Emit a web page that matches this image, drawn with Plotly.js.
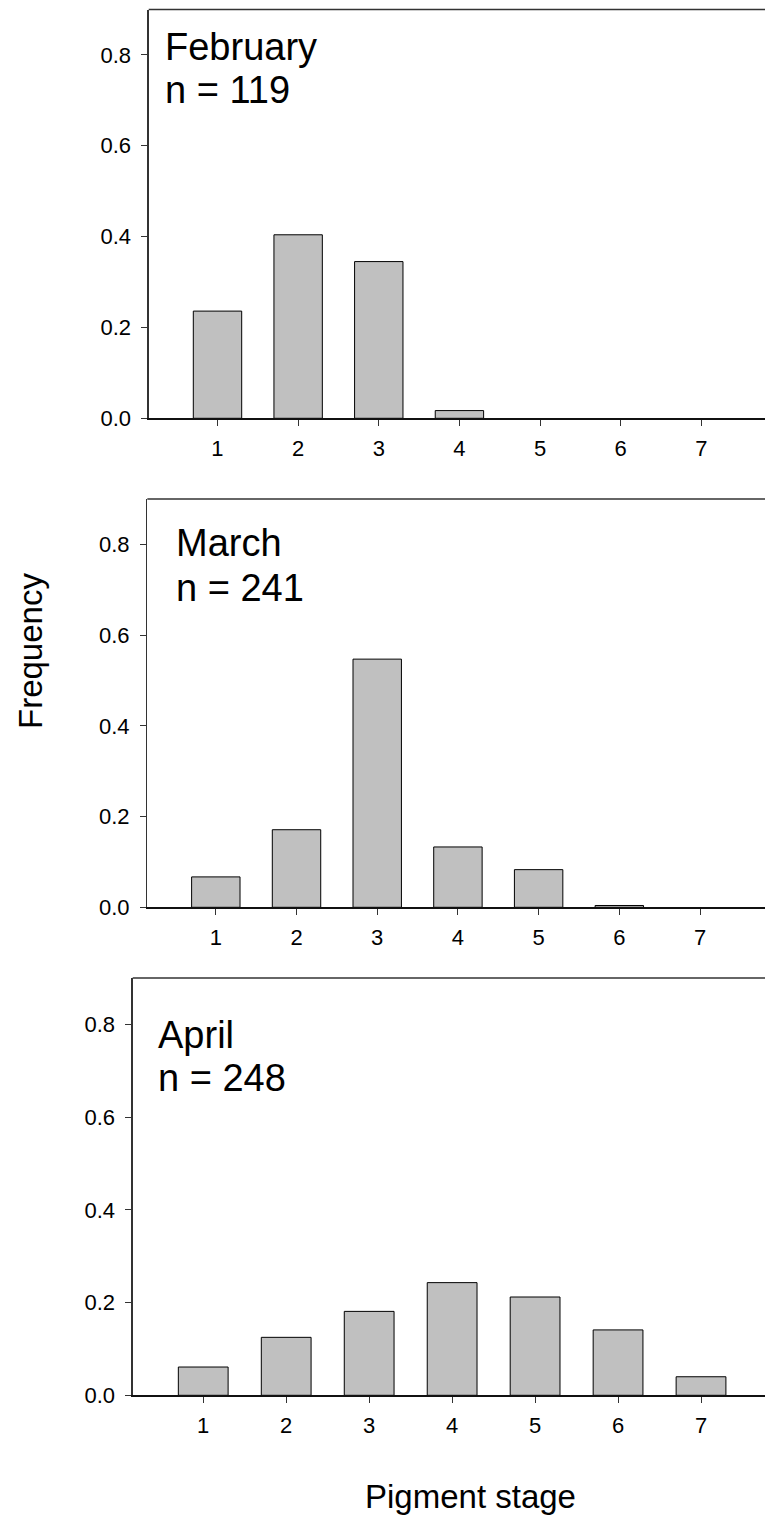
<!DOCTYPE html>
<html>
<head>
<meta charset="utf-8">
<script src="https://cdn.plot.ly/plotly-3.0.1.min.js"></script>
<style>html,body{margin:0;padding:0;background:#fff;}#chart{width:765px;height:1520px;}</style>
</head>
<body>
<div id="chart"></div>
<script>
// Data
const stages = [1, 2, 3, 4, 5, 6, 7];
const tickLabels = ['1', '2', '3', '4', '5', '6', '7'];
const febFreq = [0.236, 0.404, 0.345, 0.017, 0, 0, 0];
const marFreq = [0.067, 0.171, 0.547, 0.133, 0.083, 0.004, 0];
const aprFreq = [0.061, 0.125, 0.181, 0.243, 0.212, 0.141, 0.040];
const panelMonths = ['February', 'March', 'April'];
const panelN = ['n = 119', 'n = 241', 'n = 248'];
const yTicks = [0, 0.2, 0.4, 0.6, 0.8];

const FONT = '"Liberation Sans", Arial, Helvetica, sans-serif';
const W = 765, H = 1520;
const px = v => v / W;
const py = v => 1 - v / H;

function bar(y, xa, ya) {
  return {
    type: 'bar', x: stages, y: y.map(v => (v === 0 ? null : v)), xaxis: xa, yaxis: ya, width: 0.6,
    marker: {color: '#c0c0c0', line: {color: '#000', width: 1}},
    hoverinfo: 'skip', showlegend: false
  };
}

const data = [bar(febFreq, 'x', 'y'), bar(marFreq, 'x2', 'y2'), bar(aprFreq, 'x3', 'y3')];

function xax(dom, range, anchor) {
  return {
    domain: dom, range: range, anchor: anchor,
    tickmode: 'array', tickvals: stages, ticktext: tickLabels,
    ticks: 'outside', ticklen: 6, tickwidth: 1, tickcolor: '#333',
    ticklabelstandoff: 4,
    showline: true, linecolor: '#111', linewidth: 1.3,
    showgrid: false, zeroline: false, fixedrange: true,
    tickfont: {family: FONT, size: 22, color: '#000'}
  };
}
function yax(dom, anchor) {
  return {
    domain: dom, range: [0, 0.9], anchor: anchor,
    tickmode: 'array', tickvals: yTicks, ticktext: yTicks.map(v => v.toFixed(1)),
    ticks: 'outside', ticklen: 6, tickwidth: 1, tickcolor: '#333',
    ticklabelstandoff: 6,
    showline: true, linecolor: '#333', linewidth: 1.3,
    showgrid: false, zeroline: false, fixedrange: true,
    tickfont: {family: FONT, size: 22, color: '#000'}
  };
}

const panels = [
  {xl: 148.7, top: 9.5, bot: 418.3, xr: [0.147, 7.789], tx: 162.7, t1: 46.7, t2: 90.3},
  {xl: 147.3, top: 499, bot: 907.3, xr: [0.151, 7.805], tx: 174, t1: 543.3, t2: 587.9},
  {xl: 132.7, top: 978, bot: 1395.3, xr: [0.150, 7.771], tx: 155.7, t1: 1034.5, t2: 1077.9}
];

const layout = {
  width: W, height: H,
  margin: {l: 0, r: 0, t: 0, b: 0},
  paper_bgcolor: '#fff', plot_bgcolor: '#fff',
  bargap: 0.4,
  showlegend: false,
  font: {family: FONT, color: '#000'},
  annotations: [], shapes: []
};

const ids = ['', '2', '3'];
panels.forEach((p, i) => {
  const xd = [px(p.xl), 1];
  const yd = [py(p.bot), py(p.top)];
  layout['xaxis' + ids[i]] = xax(xd, p.xr, 'y' + ids[i]);
  layout['yaxis' + ids[i]] = yax(yd, 'x' + ids[i]);
  layout.shapes.push({
    type: 'line', xref: 'x' + ids[i] + ' domain', yref: 'y' + ids[i] + ' domain',
    x0: 0, x1: 1, y0: 1, y1: 1, line: {color: '#333', width: 1.3}
  });
  layout.annotations.push({
    text: panelMonths[i], xref: 'paper', yref: 'paper', x: px(p.tx), y: py(p.t1),
    xanchor: 'left', yanchor: 'middle', showarrow: false,
    font: {family: FONT, size: 38, color: '#000'}
  });
  layout.annotations.push({
    text: panelN[i], xref: 'paper', yref: 'paper', x: px(p.tx), y: py(p.t2),
    xanchor: 'left', yanchor: 'middle', showarrow: false,
    font: {family: FONT, size: 38, color: '#000'}
  });
});

layout.annotations.push({
  text: 'Frequency', xref: 'paper', yref: 'paper', x: px(30), y: py(651),
  xanchor: 'center', yanchor: 'middle', textangle: -90, showarrow: false,
  font: {family: FONT, size: 33, color: '#000'}
});
layout.annotations.push({
  text: 'Pigment stage', xref: 'paper', yref: 'paper', x: px(470), y: py(1496.5),
  xanchor: 'center', yanchor: 'middle', showarrow: false,
  font: {family: FONT, size: 33, color: '#000'}
});

Plotly.newPlot('chart', data, layout, {displayModeBar: false, staticPlot: true});
</script>
</body>
</html>
